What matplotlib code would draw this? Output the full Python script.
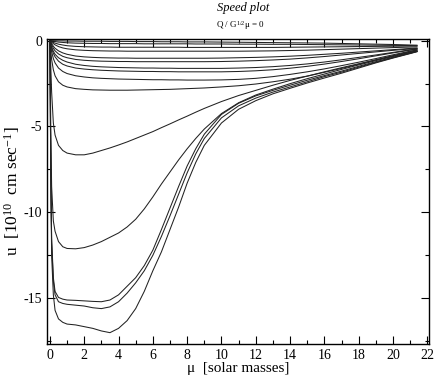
import matplotlib
matplotlib.use("Agg")
import matplotlib.pyplot as plt
from matplotlib.ticker import MultipleLocator

plt.rcParams['font.family'] = ['Liberation Serif', 'DejaVu Serif']
plt.rcParams['mathtext.fontset'] = 'custom'
plt.rcParams['mathtext.rm'] = 'Liberation Serif'
plt.rcParams['mathtext.it'] = 'Liberation Serif:italic'

# mass grid shared by all curves (solar masses)
mu = [0, 0.05, 0.1, 0.2, 0.3, 0.5, 0.75, 1, 1.5, 2, 2.5, 3, 3.5, 4, 4.5, 5, 5.5, 6,
      6.5, 7, 7.5, 8, 8.5, 9, 10, 11, 12, 13, 14, 15, 16, 17, 18, 19, 20, 21, 21.4]

# speed curves, u in 1e10 cm/s
u_c3 = [0, -8.0, -12.5, -14.8, -15.7, -16.2, -16.4, -16.5, -16.55, -16.65, -16.75, -16.9, -17.0,
        -16.75, -16.3, -15.6, -14.6, -13.4, -12.3, -11.0, -9.7, -8.3, -7.1, -6.1, -4.8, -4.0,
        -3.5, -3.1, -2.78, -2.47, -2.18, -1.9, -1.6, -1.3, -1.02, -0.76, -0.65]
u_c2 = [0, -7.5, -11.8, -14.0, -14.8, -15.2, -15.3, -15.35, -15.4, -15.45, -15.55, -15.6, -15.5,
        -15.2, -14.7, -14.1, -13.4, -12.5, -11.4, -10.2, -8.95, -7.7, -6.6, -5.7, -4.5, -3.8,
        -3.35, -3.0, -2.7, -2.4, -2.1, -1.84, -1.55, -1.27, -1.0, -0.74, -0.64]
u_c1 = [0, -7.5, -11.5, -13.8, -14.6, -14.95, -15.05, -15.1, -15.12, -15.15, -15.18, -15.2, -15.1,
        -14.8, -14.3, -13.8, -13.1, -12.2, -11.0, -9.75, -8.5, -7.3, -6.3, -5.45, -4.3, -3.65,
        -3.22, -2.9, -2.6, -2.31, -2.04, -1.78, -1.5, -1.23, -0.97, -0.73, -0.63]
u_b = [0, -5.0, -8.5, -10.5, -11.1, -11.7, -12.0, -12.1, -12.12, -12.05, -11.9, -11.7, -11.45,
       -11.2, -10.85, -10.4, -9.8, -9.1, -8.35, -7.65, -6.95, -6.3, -5.7, -5.15, -4.25, -3.62,
       -3.17, -2.83, -2.51, -2.22, -1.95, -1.68, -1.42, -1.17, -0.93, -0.7, -0.62]
u_e = [0, -1.5, -3.0, -4.8, -5.5, -6.1, -6.4, -6.55, -6.65, -6.65, -6.55, -6.4, -6.25,
       -6.08, -5.9, -5.7, -5.5, -5.3, -5.07, -4.85, -4.62, -4.4, -4.17, -3.95, -3.55, -3.2,
       -2.9, -2.6, -2.32, -2.07, -1.82, -1.58, -1.35, -1.12, -0.9, -0.68, -0.6]
u_s10 = [0, -0.6, -1.1, -1.7, -2.05, -2.4, -2.6, -2.7, -2.8, -2.84, -2.87, -2.88, -2.89, -2.89,
         -2.89, -2.88, -2.87, -2.86, -2.85, -2.84, -2.82, -2.8, -2.78, -2.76, -2.7, -2.63, -2.53,
         -2.4, -2.25, -2.07, -1.85, -1.62, -1.38, -1.13, -0.88, -0.64, -0.56]
u_s9 = [0, -0.35, -0.65, -1.05, -1.3, -1.6, -1.8, -1.92, -2.05, -2.12, -2.17, -2.2, -2.22, -2.24,
        -2.25, -2.26, -2.27, -2.28, -2.28, -2.29, -2.29, -2.3, -2.3, -2.3, -2.29, -2.26, -2.2,
        -2.1, -1.97, -1.82, -1.65, -1.46, -1.26, -1.05, -0.83, -0.62, -0.55]
u_s8 = [0, -0.25, -0.45, -0.75, -0.95, -1.2, -1.38, -1.48, -1.6, -1.66, -1.7, -1.73, -1.75, -1.77,
        -1.78, -1.79, -1.8, -1.8, -1.81, -1.81, -1.82, -1.82, -1.82, -1.82, -1.82, -1.8, -1.76,
        -1.7, -1.61, -1.5, -1.37, -1.22, -1.06, -0.89, -0.72, -0.56, -0.5]
u_s7 = [0, -0.2, -0.38, -0.62, -0.8, -1.0, -1.15, -1.25, -1.38, -1.45, -1.5, -1.53, -1.55, -1.57,
        -1.58, -1.59, -1.6, -1.6, -1.61, -1.61, -1.62, -1.62, -1.62, -1.62, -1.62, -1.6, -1.57,
        -1.52, -1.45, -1.36, -1.25, -1.12, -0.98, -0.84, -0.69, -0.54, -0.49]
u_s6 = [0, -0.12, -0.25, -0.45, -0.6, -0.78, -0.92, -1.0, -1.1, -1.15, -1.18, -1.2, -1.21, -1.22,
        -1.22, -1.23, -1.23, -1.23, -1.23, -1.23, -1.23, -1.23, -1.23, -1.23, -1.22, -1.2, -1.17,
        -1.13, -1.08, -1.01, -0.93, -0.84, -0.75, -0.66, -0.57, -0.49, -0.46]
u_s5 = [0, -0.08, -0.18, -0.33, -0.45, -0.6, -0.72, -0.8, -0.9, -0.95, -0.98, -1.0, -1.01, -1.02,
        -1.02, -1.03, -1.03, -1.03, -1.03, -1.03, -1.03, -1.03, -1.03, -1.03, -1.02, -1.0, -0.98,
        -0.95, -0.91, -0.86, -0.8, -0.74, -0.67, -0.6, -0.53, -0.46, -0.44]
u_s4 = [0, -0.05, -0.1, -0.18, -0.25, -0.35, -0.43, -0.48, -0.54, -0.57, -0.59, -0.6, -0.61, -0.61,
        -0.62, -0.62, -0.62, -0.62, -0.62, -0.62, -0.62, -0.62, -0.62, -0.62, -0.62, -0.62, -0.61,
        -0.6, -0.58, -0.56, -0.53, -0.5, -0.47, -0.44, -0.41, -0.38, -0.37]
u_s3 = [0, -0.03, -0.06, -0.11, -0.15, -0.21, -0.26, -0.3, -0.34, -0.36, -0.37, -0.38, -0.38, -0.39,
        -0.39, -0.39, -0.39, -0.39, -0.39, -0.39, -0.39, -0.4, -0.4, -0.4, -0.4, -0.4, -0.4,
        -0.4, -0.39, -0.38, -0.37, -0.36, -0.35, -0.34, -0.33, -0.32, -0.31]
u_s2 = [0, -0.01, -0.02, -0.04, -0.06, -0.09, -0.11, -0.13, -0.15, -0.16, -0.17, -0.17, -0.18, -0.18,
        -0.18, -0.18, -0.19, -0.19, -0.19, -0.19, -0.19, -0.19, -0.2, -0.2, -0.2, -0.21, -0.21,
        -0.22, -0.22, -0.23, -0.24, -0.25, -0.26, -0.27, -0.28, -0.29, -0.3]
u_s1 = [0, 0, -0.01, -0.01, -0.01, -0.02, -0.02, -0.03, -0.03, -0.04, -0.04, -0.04, -0.05, -0.05,
        -0.05, -0.06, -0.06, -0.06, -0.07, -0.07, -0.07, -0.08, -0.08, -0.08, -0.09, -0.1, -0.11,
        -0.12, -0.13, -0.14, -0.15, -0.17, -0.19, -0.21, -0.23, -0.26, -0.27]

curves = [u_s1, u_s2, u_s3, u_s4, u_s5, u_s6, u_s7, u_s8, u_s9, u_s10, u_e, u_b, u_c1, u_c2, u_c3]

fig = plt.figure(figsize=(4.36, 3.82), dpi=100)
ax = fig.add_axes([47 / 436, 38 / 382, 382 / 436, 305 / 382])

for u in curves:
    ax.plot(mu, u, color='#222222', lw=0.75)

ax.set_xlim(-0.17, 22.1)
ax.set_ylim(-17.66, 0.09)
ax.xaxis.set_major_locator(MultipleLocator(2))
ax.xaxis.set_minor_locator(MultipleLocator(1))
ax.yaxis.set_major_locator(MultipleLocator(5))
ax.yaxis.set_minor_locator(MultipleLocator(2.5))
ax.tick_params(which='both', direction='in', top=True, right=True, labelsize=10, width=0.8)
ax.tick_params(which='major', length=6)
ax.tick_params(which='minor', length=3)
ax.set_yticks([0, -5, -10, -15])
ax.set_yticklabels(['0', '-5', '-10', '-15'])
for sp in ax.spines.values():
    sp.set_linewidth(1.0)

ax.set_xlabel('\u03bc  [solar masses]', fontsize=11, labelpad=0)
ax.set_ylabel('u  [10$^{10}$  cm sec$^{-1}$]', fontsize=12.5, labelpad=1)

fig.text(243 / 436, 1 - 8 / 382, 'Speed plot', ha='center', va='center', fontsize=9, style='italic')
fig.text(240 / 436, 1 - 25 / 382, 'Q / G$^{1/2}$\u03bc = 0', ha='center', va='center', fontsize=6.5)

fig.savefig('out.png', dpi=100)
